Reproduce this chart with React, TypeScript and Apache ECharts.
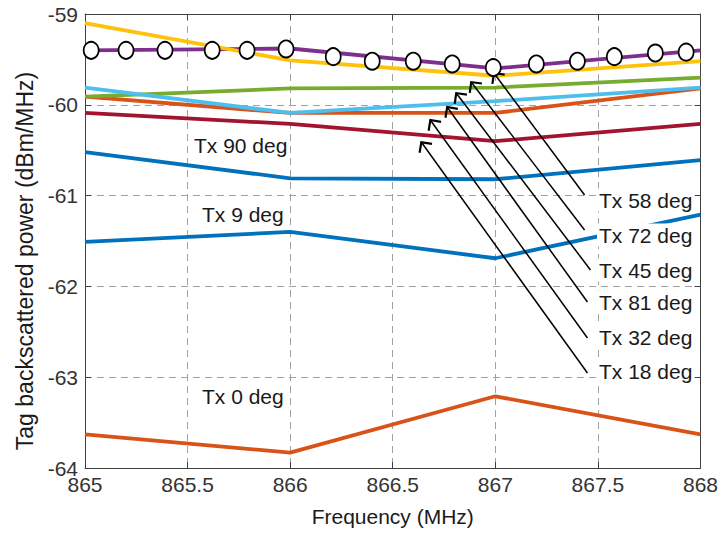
import React, { useEffect, useRef } from "react";
import * as echarts from "echarts";

// ---- data ----
const freq = [865, 866, 867, 868];
const tx0 = [-63.63, -63.83, -63.21, -63.63];
const tx9 = [-61.51, -61.4, -61.69, -61.21];
const tx90 = [-60.52, -60.81, -60.82, -60.61];
const tx18 = [-60.09, -60.21, -60.4, -60.21];
const tx32 = [-59.91, -60.09, -60.09, -59.82];
const tx81 = [-59.81, -60.09, -59.96, -59.81];
const tx45 = [-59.91, -59.82, -59.81, -59.7];
const tx72 = [-59.1, -59.51, -59.68, -59.52];
const tx58 = [-59.4, -59.38, -59.6, -59.4];

const markerFreq = [865.03, 865.2, 865.39, 865.62, 865.79, 865.98, 866.21, 866.4, 866.6, 866.79, 866.99, 867.2, 867.4, 867.58, 867.78, 867.93];
const markerVal = [-59.4, -59.4, -59.4, -59.4, -59.4, -59.385, -59.47, -59.52, -59.52, -59.55, -59.59, -59.55, -59.52, -59.47, -59.43, -59.42];

const xTicks = { min: 865, max: 868, interval: 0.5 };
const yTicks = { min: -64, max: -59, interval: 1 };

// arrows: tail and tip in data coordinates
const arrowLabels = ["Tx 58 deg", "Tx 72 deg", "Tx 45 deg", "Tx 81 deg", "Tx 32 deg", "Tx 18 deg"];
const arrowTails = [
  [867.435, -60.993],
  [867.435, -61.379],
  [867.464, -61.819],
  [867.449, -62.172],
  [867.449, -62.568],
  [867.449, -62.954],
];
const arrowTips = [
  [866.993, -59.65],
  [866.882, -59.749],
  [866.809, -59.87],
  [866.765, -60.024],
  [866.683, -60.167],
  [866.639, -60.41],
];

const FONT = '"Liberation Sans", Arial, sans-serif';
const TXT = "#1a1a1a";

const chevron =
  "path://M0,0L0,0ZM20,20L20,20ZM10,9L4,15L5.1,16.1L10,11.2L14.9,16.1L16,15Z";

function lineSeries(name: string, vals: number[], color: string) {
  return {
    name,
    type: "line",
    data: freq.map((f, i) => [f, vals[i]]),
    showSymbol: false,
    symbol: "none",
    lineStyle: { color, width: 3.8 },
    itemStyle: { color },
    z: 3,
  };
}

export default function App() {
  const ref = useRef<HTMLDivElement>(null);
  useEffect(() => {
    if (!ref.current) return;
    const chart = echarts.init(ref.current, undefined, { renderer: "svg" });
    const axisCommon = {
      type: "value",
      axisLine: { show: true, lineStyle: { color: "#404040", width: 1 } },
      axisTick: { show: true, inside: true, length: 6, lineStyle: { color: "#404040" } },
    };
    const labelPos: [string, number, number][] = [
      ["Tx 90 deg", 192, 145],
      ["Tx 9 deg", 200, 214],
      ["Tx 0 deg", 200, 396],
      ["Tx 58 deg", 597, 200],
      ["Tx 72 deg", 597, 235],
      ["Tx 45 deg", 597, 270],
      ["Tx 81 deg", 597, 302],
      ["Tx 32 deg", 597, 337],
      ["Tx 18 deg", 597, 371],
    ];
    chart.setOption({
      animation: false,
      backgroundColor: "#fff",
      grid: { left: 85, right: 17, top: 14, bottom: 65, containLabel: false },
      xAxis: [
        {
          ...axisCommon,
          ...xTicks,
          position: "bottom",
          name: "Frequency (MHz)",
          nameLocation: "middle",
          nameGap: 38,
          nameTextStyle: { fontFamily: FONT, fontSize: 21, color: TXT },
          axisLabel: { fontFamily: FONT, fontSize: 21, color: "#333", margin: 6 },
          splitLine: { show: true, lineStyle: { color: "#a0a0a0", type: [7, 5], width: 1 } },
        },
        {
          ...axisCommon,
          ...xTicks,
          position: "top",
          axisLabel: { show: false },
          splitLine: { show: false },
        },
      ],
      yAxis: [
        {
          ...axisCommon,
          ...yTicks,
          position: "left",
          name: "Tag backscattered power (dBm/MHz)",
          nameLocation: "middle",
          nameGap: 46,
          nameTextStyle: { fontFamily: FONT, fontSize: 23, color: TXT, padding: [0, 40, 0, 0] },
          axisLabel: { fontFamily: FONT, fontSize: 21, color: "#333", margin: 7 },
          splitLine: { show: true, lineStyle: { color: "#a0a0a0", type: [7, 5], width: 1 } },
        },
        {
          ...axisCommon,
          ...yTicks,
          position: "right",
          axisLabel: { show: false },
          splitLine: { show: false },
        },
      ],
      series: [
        lineSeries("Tx 0 deg", tx0, "#D95319"),
        lineSeries("Tx 9 deg", tx9, "#0072BD"),
        lineSeries("Tx 90 deg", tx90, "#0072BD"),
        lineSeries("Tx 18 deg", tx18, "#A2142F"),
        lineSeries("Tx 32 deg", tx32, "#D95319"),
        lineSeries("Tx 45 deg", tx45, "#77AC30"),
        lineSeries("Tx 81 deg", tx81, "#4DBEEE"),
        lineSeries("Tx 58 deg", tx58, "#7E2F8E"),
        lineSeries("Tx 72 deg", tx72, "#FFC20A"),
        {
          name: "markers",
          type: "scatter",
          data: markerFreq.map((f, i) => [f, markerVal[i]]),
          symbol: "circle",
          symbolSize: [15, 17],
          itemStyle: { color: "#fff", borderColor: "#000", borderWidth: 1.8, opacity: 1 },
          z: 5,
        },
        {
          name: "arrows",
          type: "line",
          data: [],
          z: 6,
          markLine: {
            silent: true,
            animation: false,
            symbol: ["none", chevron],
            symbolSize: 28,
            label: { show: false },
            lineStyle: { color: "#000", width: 1.5, type: "solid" },
            data: arrowLabels.map((_, i) => [
              { coord: arrowTails[i] },
              { coord: arrowTips[i] },
            ]),
          },
        },
      ],
      graphic: labelPos.map(([t, x, y]) => ({
        type: "text",
        z: 100,
        x,
        y,
        style: {
          text: t,
          fill: TXT,
          font: `21px ${FONT}`,
          verticalAlign: "middle",
          align: "left",
          backgroundColor: "#fff",
          padding: [1, 2],
        },
      })),
    });
    return () => chart.dispose();
  }, []);
  return (
    <div
      ref={ref}
      style={{ position: "fixed", left: 0, top: 0, width: 721, height: 533 }}
    />
  );
}
